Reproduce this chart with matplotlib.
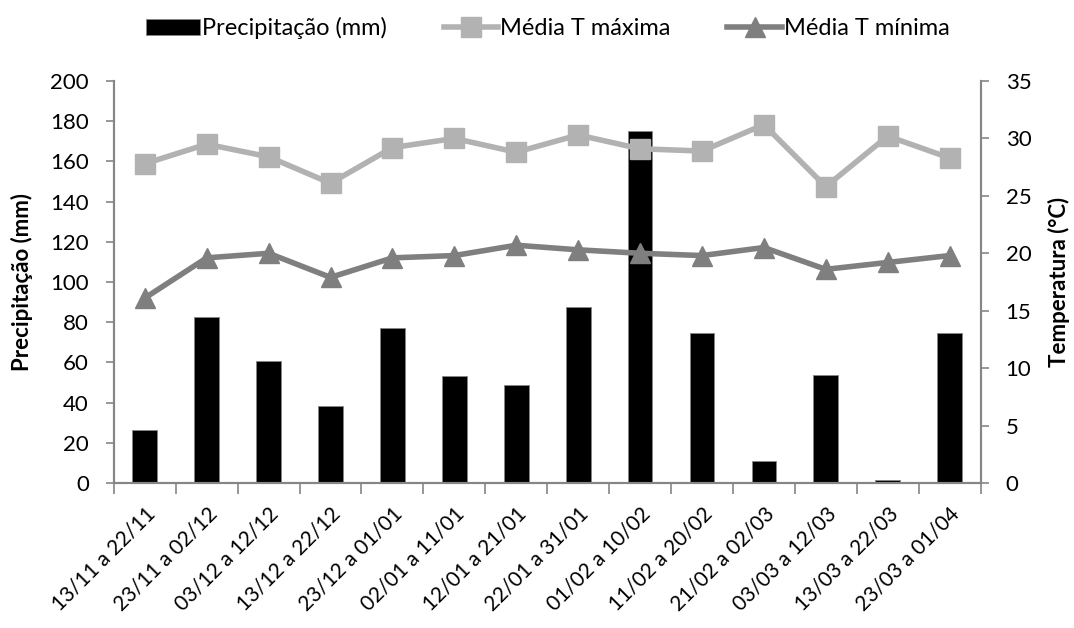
from matplotlib import pyplot as plt
import numpy as np

# Períodos de 10 dias e dados meteorológicos
periodos = ['13/11 a 22/11', '23/11 a 02/12', '03/12 a 12/12', '13/12 a 22/12',
            '23/12 a 01/01', '02/01 a 11/01', '12/01 a 21/01', '22/01 a 31/01',
            '01/02 a 10/02', '11/02 a 20/02', '21/02 a 02/03', '03/03 a 12/03',
            '13/03 a 22/03', '23/03 a 01/04']
precipitacao = [26.4, 82.4, 60.8, 38.5, 77.3, 53.4, 48.9, 87.6, 175.3, 74.5, 10.8, 53.7, 1.5, 74.5]
t_max = [27.8, 29.5, 28.4, 26.1, 29.2, 30.0, 28.8, 30.3, 29.1, 28.9, 31.2, 25.8, 30.2, 28.3]
t_min = [16.1, 19.6, 20.0, 17.9, 19.6, 19.8, 20.7, 20.3, 20.0, 19.8, 20.5, 18.6, 19.2, 19.8]

plt.rcParams['font.family'] = ['Lato', 'DejaVu Sans']
cinza = '#868686'

fig = plt.figure(figsize=(10.74, 6.28), dpi=100)
ax = fig.add_axes([0.106, 0.231, 0.807, 0.640])
ax2 = ax.twinx()

x = np.arange(len(periodos))
barras = ax.bar(x, precipitacao, width=0.4, color='black', edgecolor=cinza,
                linewidth=0.6, label='Precipitação (mm)', zorder=2)
lmax, = ax2.plot(x, t_max, color='#b2b2b2', lw=4, marker='s', ms=14,
                 label='Média T máxima', zorder=3)
lmin, = ax2.plot(x, t_min, color='#7f7f7f', lw=4, marker='^', ms=15,
                 label='Média T mínima', zorder=3)

ax.set_xlim(-0.5, len(periodos) - 0.5)
ax.set_ylim(0, 200)
ax.set_yticks(range(0, 201, 20))
ax2.set_ylim(0, 35)
ax2.set_yticks(range(0, 36, 5))

ax.set_xticks(np.arange(-0.5, len(periodos), 1.0), minor=False)
ax.set_xticklabels([])
ax.set_xticks(x, minor=True)
ax.set_xticklabels(periodos, minor=True, rotation=45, ha='right', va='top',
                   rotation_mode='anchor', fontsize=15)
ax.tick_params(axis='x', which='minor', length=0, pad=15)
ax.tick_params(axis='x', which='major', length=8, color=cinza, width=1.2)

ax.tick_params(axis='y', length=6, color=cinza, width=1.2, labelsize=16, pad=12)
ax2.tick_params(axis='y', length=6, color=cinza, width=1.2, labelsize=16, pad=12)

for a in (ax, ax2):
    a.spines['top'].set_visible(False)
    for s in ('left', 'right', 'bottom'):
        a.spines[s].set_color(cinza)
        a.spines[s].set_linewidth(1.5)
ax.set_zorder(ax2.get_zorder() - 1)
ax2.patch.set_visible(False)

ax.set_ylabel('Precipitação (mm)', fontsize=16, fontweight='bold', labelpad=12)
ax2.set_ylabel('Temperatura (°C)', fontsize=16, fontweight='bold', labelpad=12)

fig.legend([barras, lmax, lmin],
           ['Precipitação (mm)', 'Média T máxima', 'Média T mínima'],
           loc='center', bbox_to_anchor=(0.51, 0.955), ncol=3, frameon=False,
           fontsize=17, handlelength=2.3, columnspacing=2.4, handletextpad=0.1)

fig.savefig('out.png', dpi=100)
